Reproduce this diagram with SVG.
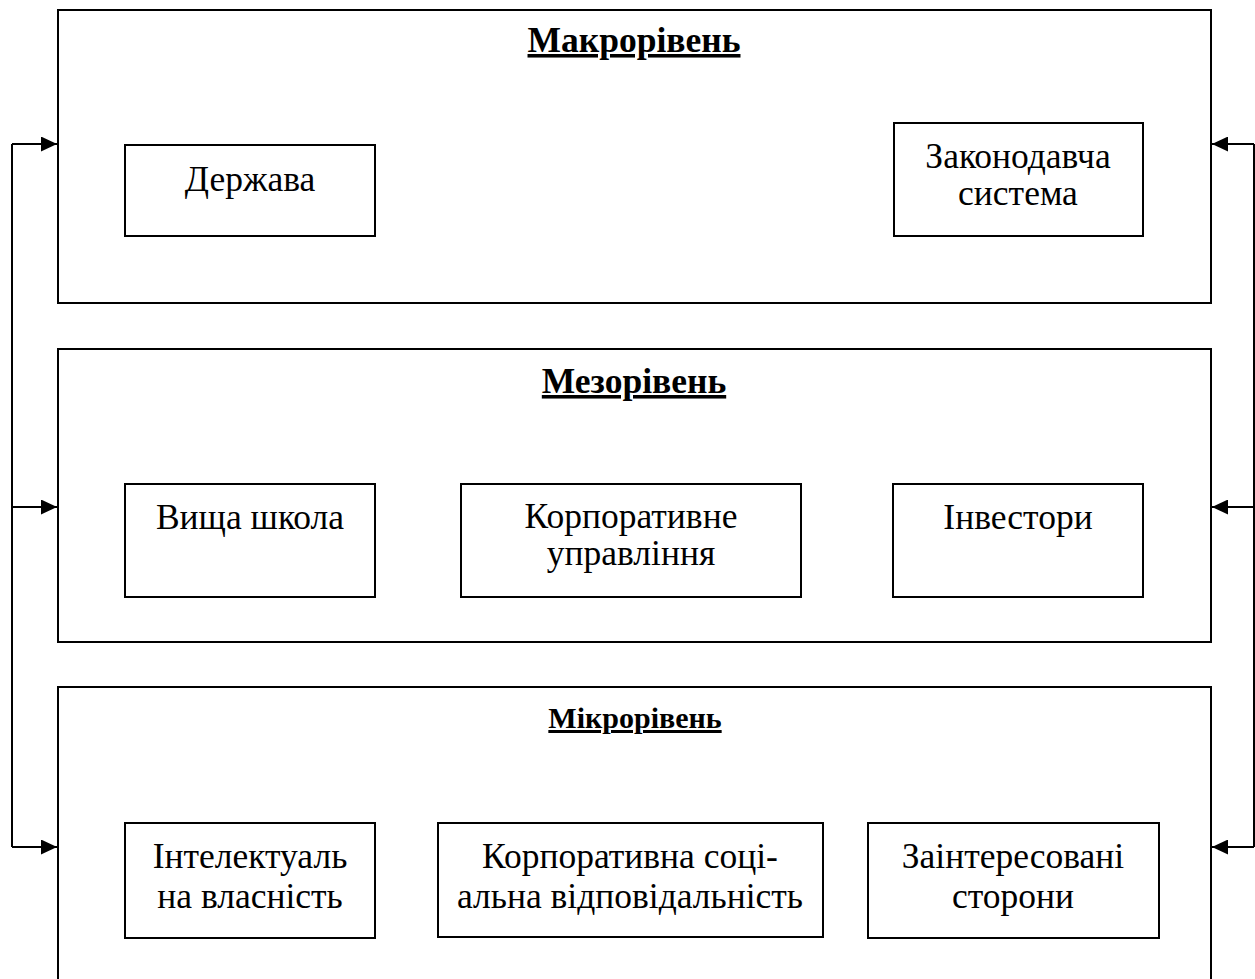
<svg xmlns="http://www.w3.org/2000/svg" width="1255" height="979" viewBox="0 0 1255 979">
<defs>
<style>
.frame{fill:#fff;stroke:#000;stroke-width:2}
.box{fill:#fff;stroke:#000;stroke-width:2}
.t{font-family:"Liberation Serif","Times New Roman",serif;font-size:35.5px;text-anchor:middle;fill:#000}
.h{font-family:"Liberation Serif","Times New Roman",serif;font-size:35.5px;font-weight:bold;text-anchor:middle;fill:#000;text-decoration:underline}
.h2{font-size:30px}
.c{fill:none;stroke:#000;stroke-width:2}
</style>
<marker id="ah" viewBox="0 0 16 15" refX="16" refY="7.5" markerWidth="16" markerHeight="15" markerUnits="userSpaceOnUse" orient="auto">
<path d="M0,0 L16,7.5 L0,15 z" fill="#000"/>
</marker>
</defs>
<rect width="1255" height="979" fill="#fff"/>
<g id="macro">
<rect class="frame" x="58" y="10" width="1153" height="293"/>
<text class="h" x="634" y="52">Макрорівень</text>
</g>
<g id="derzhava">
<rect class="box" x="125" y="145" width="250" height="91"/>
<text class="t" x="250" y="191">Держава</text>
</g>
<g id="zakon">
<rect class="box" x="894" y="123" width="249" height="113"/>
<text class="t" x="1018" y="168">Законодавча</text>
<text class="t" x="1018" y="205">система</text>
</g>
<g id="mezo">
<rect class="frame" x="58" y="349" width="1153" height="293"/>
<text class="h" x="634" y="393">Мезорівень</text>
</g>
<g id="vyshcha">
<rect class="box" x="125" y="484" width="250" height="113"/>
<text class="t" x="250" y="529">Вища школа</text>
</g>
<g id="korpupr">
<rect class="box" x="461" y="484" width="340" height="113"/>
<text class="t" x="631" y="528">Корпоративне</text>
<text class="t" x="631" y="565">управління</text>
</g>
<g id="investory">
<rect class="box" x="893" y="484" width="250" height="113"/>
<text class="t" x="1018" y="529">Інвестори</text>
</g>
<g id="micro">
<rect class="frame" x="58" y="687" width="1153" height="300"/>
<text class="h h2" x="635" y="728">Мікрорівень</text>
</g>
<g id="intel">
<rect class="box" x="125" y="823" width="250" height="115"/>
<text class="t" x="250" y="868">Інтелектуаль</text>
<text class="t" x="250" y="908">на власність</text>
</g>
<g id="ksv">
<rect class="box" x="438" y="823" width="385" height="114"/>
<text class="t" x="630" y="868">Корпоративна соці-</text>
<text class="t" x="630" y="908">альна відповідальність</text>
</g>
<g id="stake">
<rect class="box" x="868" y="823" width="291" height="115"/>
<text class="t" x="1013" y="868">Заінтересовані</text>
<text class="t" x="1013" y="908">сторони</text>
</g>
<g id="connectors">
<path class="c" d="M12,847 V144"/>
<path class="c" d="M12,144 H57" marker-end="url(#ah)"/>
<path class="c" d="M12,507 H57" marker-end="url(#ah)"/>
<path class="c" d="M12,847 H57" marker-end="url(#ah)"/>
<path class="c" d="M1254,847 V144"/>
<path class="c" d="M1254,144 H1212" marker-end="url(#ah)"/>
<path class="c" d="M1254,507 H1212" marker-end="url(#ah)"/>
<path class="c" d="M1254,847 H1212" marker-end="url(#ah)"/>
</g>
</svg>
